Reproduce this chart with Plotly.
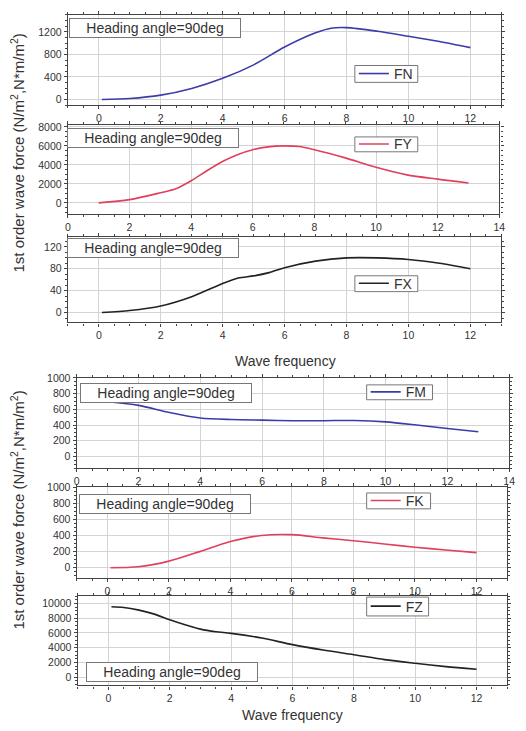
import plotly.graph_objects as go

W, H = 526, 731

# ---------------- data ----------------
fn_x = [0.1, 1, 2, 3, 4, 5, 6, 7, 7.5, 8, 9, 10, 11, 12]
fn_y = [0, 18, 78, 197, 376, 615, 930, 1182, 1265, 1275, 1210, 1122, 1030, 920]

fy_x = [1, 2, 3, 3.5, 4, 4.5, 5, 5.5, 6, 6.5, 7, 7.5, 8, 9, 10, 11, 12, 13]
fy_y = [0, 340, 1060, 1480, 2330, 3360, 4330, 5080, 5600, 5900, 6000, 5940, 5600, 4740, 3750, 2950, 2500, 2100]

fx_x = [0.1, 1, 2, 3, 4, 4.5, 5, 5.5, 6, 7, 8, 9, 10, 11, 12]
fx_y = [0, 3.6, 12, 29, 53, 63, 67, 73, 82, 94, 100, 100, 97, 90, 80]

fm_x = [1, 2, 3, 4, 5, 6, 7, 8, 9, 10, 11, 12, 13]
fm_y = [696, 650, 560, 490, 470, 462, 455, 455, 458, 440, 400, 355, 315]

fk_x = [0.1, 1, 2, 3, 4, 5, 6, 7, 8, 9, 10, 11, 12]
fk_y = [0, 12, 82, 200, 325, 400, 410, 370, 335, 295, 255, 220, 188]

fz_x = [0.1, 0.5, 1, 1.5, 2, 2.5, 3, 3.5, 4, 5, 6, 7, 8, 9, 10, 11, 12]
fz_y = [9550, 9460, 9100, 8560, 7800, 7120, 6530, 6170, 5950, 5320, 4420, 3690, 3060, 2390, 1890, 1440, 1080]

names = ["FN", "FY", "FX", "FM", "FK", "FZ"]
xs = [fn_x, fy_x, fx_x, fm_x, fk_x, fz_x]
ys = [fn_y, fy_y, fx_y, fm_y, fk_y, fz_y]
colors = ["#3c3ca8", "#e0405a", "#222222", "#3c3ca8", "#e0405a", "#222222"]

x_ranges = [[-1, 13], [0, 14], [-1, 13], [0, 14], [-1, 13], [-1, 13]]
y_ranges = [[-100, 1500], [-1200, 8200], [-18, 138], [-150, 1000], [-130, 1000], [-1100, 11000]]
y_dticks = [400, 2000, 40, 200, 200, 2000]

heading_text = "Heading angle=90deg"
ytitle_text = "1st order wave force (N/m<sup>2</sup>,N*m/m<sup>2</sup>)"
xtitle_text = "Wave frequency"

# ---------------- layout geometry (pixels) ----------------
boxes = [  # left, right, top, bottom
    (66, 507, 9, 100),
    (66, 505, 120, 210),
    (66, 507, 233, 319),
    (75, 515, 375, 466),
    (75, 513, 485, 577),
    (76, 513, 595, 685),
]
legend_boxes = [  # left, top, right, bottom
    (358, 60, 422, 77),
    (358, 132, 422, 147),
    (358, 272, 422, 288),
    (370, 382, 437, 397),
    (370, 491, 435, 507),
    (370, 596, 433, 615),
]
heading_pos = [(155, 22), (153, 133), (153, 244), (166, 390), (165, 502), (172, 672)]

FONT = "Liberation Sans, Arial, sans-serif"
TXT = "#333333"

fig = go.Figure()
layout = dict(
    width=W, height=H,
    margin=dict(l=0, r=0, t=0, b=0),
    paper_bgcolor="white", plot_bgcolor="white",
    font=dict(family=FONT, size=10, color=TXT),
    showlegend=True,
)
shapes = []

for i in range(6):
    k = "" if i == 0 else str(i + 1)
    l, r, t, b = boxes[i]
    fig.add_trace(go.Scatter(
        x=xs[i], y=ys[i], mode="lines", name=names[i],
        line=dict(color=colors[i], width=1.6, shape="spline", smoothing=0.8),
        xaxis="x" + k, yaxis="y" + k,
        legend="legend" + k,
    ))
    axis_common = dict(
        showline=True, linecolor="#444444", linewidth=1.3, mirror="ticks",
        ticks="outside", ticklen=3, tickwidth=1.2, tickcolor="#444444",
        showgrid=True, gridcolor="#d4d4d4", gridwidth=1,
        zeroline=False,
        tickfont=dict(family=FONT, size=10.5, color=TXT),
        exponentformat="none", separatethousands=False,
        minor=dict(ticks="outside", ticklen=2, tickcolor="#444444", showgrid=False),
    )
    layout["xaxis" + k] = dict(
        axis_common, domain=[l / W, r / W], range=x_ranges[i], dtick=2, tick0=0,
        anchor="y" + k,
    )
    layout["yaxis" + k] = dict(
        axis_common, domain=[1 - b / H, 1 - t / H], range=y_ranges[i],
        dtick=y_dticks[i], tick0=0, anchor="x" + k, tickformat="d",
    )
    bl, bt, br, bb = legend_boxes[i]
    shapes.append(dict(
        type="rect", xref="paper", yref="paper",
        x0=bl / W, x1=br / W, y0=1 - bb / H, y1=1 - bt / H,
        line=dict(color="#777777", width=1), fillcolor="white", layer="above",
    ))
    layout["legend" + k] = dict(
        x=(bl - 1) / W, y=1 - ((bt + bb) / 2) / H, xanchor="left", yanchor="middle",
        bgcolor="rgba(0,0,0,0)", borderwidth=0,
        font=dict(family=FONT, size=14, color=TXT),
        itemwidth=30, tracegroupgap=0,
    )

annotations = []
for (cx, cy) in heading_pos:
    annotations.append(dict(
        x=cx / W, y=1 - cy / H, xref="paper", yref="paper",
        text=heading_text, showarrow=False, xanchor="center", yanchor="middle",
        font=dict(family=FONT, size=14, color=TXT),
        bordercolor="#777777", borderwidth=1, borderpad=1, bgcolor="white",
        width=168, height=16,
    ))
for cy in (148, 508):
    annotations.append(dict(
        x=15 / W, y=1 - cy / H, xref="paper", yref="paper",
        text=ytitle_text, textangle=-90, showarrow=False,
        xanchor="center", yanchor="middle",
        font=dict(family=FONT, size=15, color=TXT),
    ))
for (cx, cy) in [(287, 358), (295, 715)]:
    annotations.append(dict(
        x=cx / W, y=1 - cy / H, xref="paper", yref="paper",
        text=xtitle_text, showarrow=False, xanchor="center", yanchor="middle",
        font=dict(family=FONT, size=14, color=TXT),
    ))
layout["annotations"] = annotations
layout["shapes"] = shapes

fig.update_layout(**layout)
fig.write_html("out.html")
